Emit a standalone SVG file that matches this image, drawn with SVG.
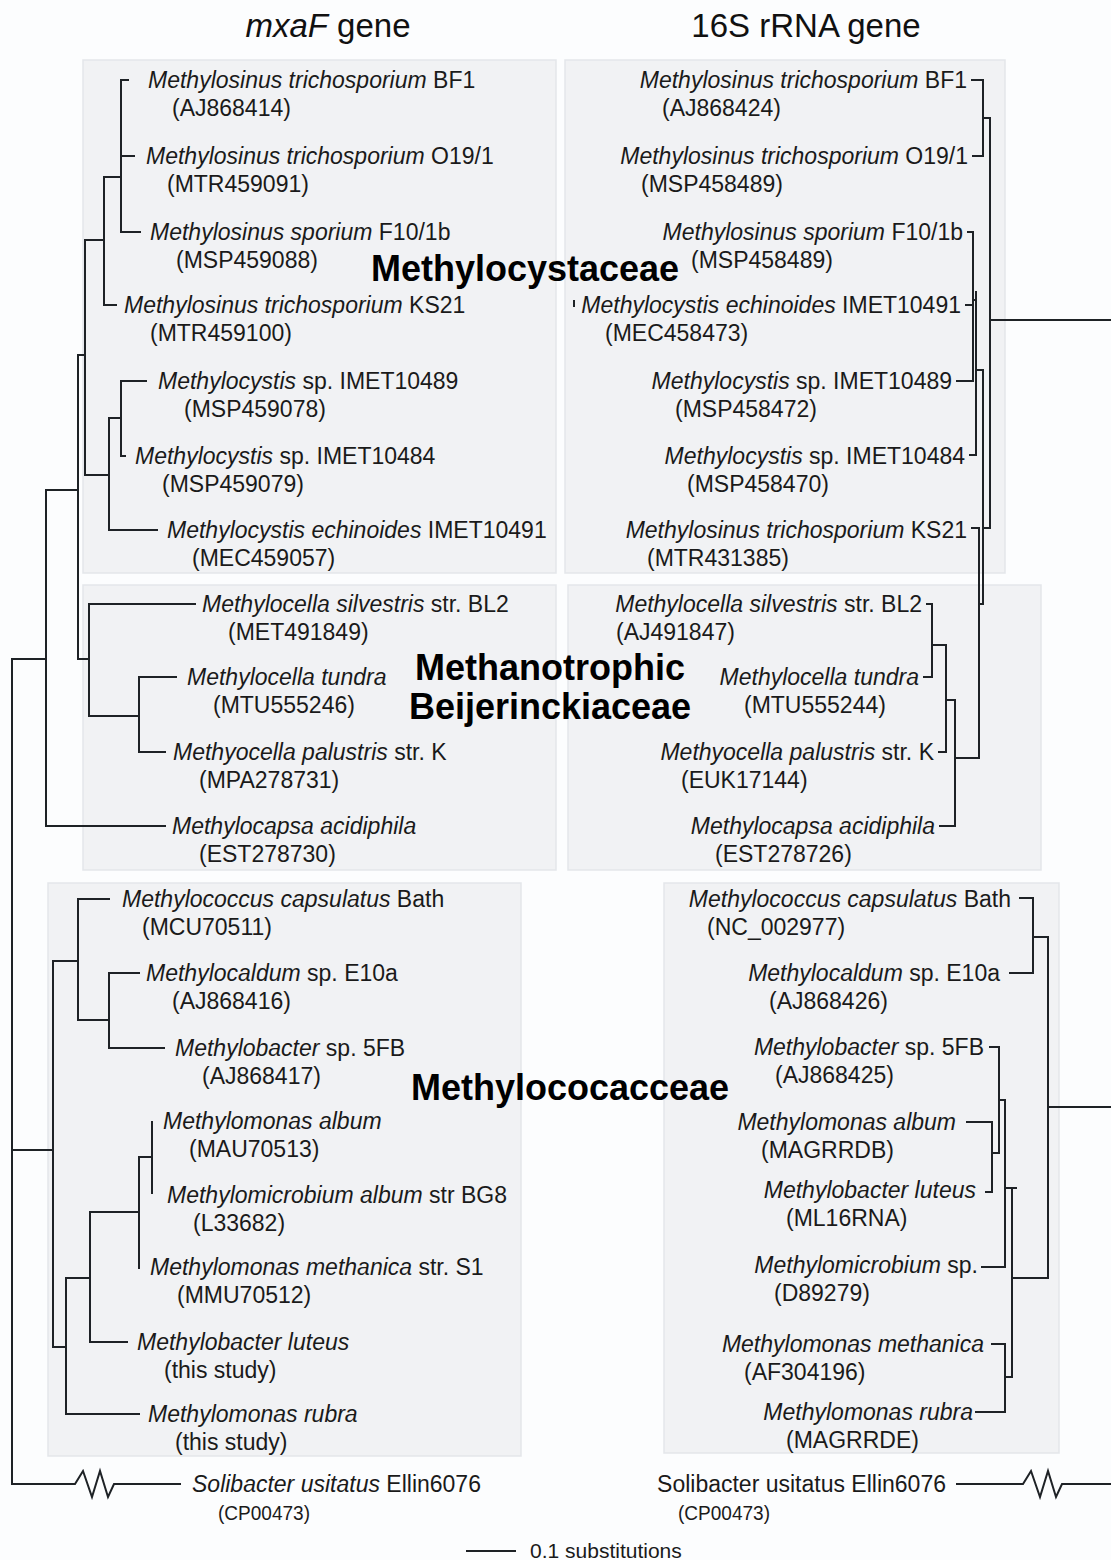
<svg xmlns="http://www.w3.org/2000/svg" width="1111" height="1560" viewBox="0 0 1111 1560">
<style>
.bg{fill:#fcfdfe}
.panel{fill:#f1f2f4;stroke:#e3e6ea;stroke-width:1.5}
.t{font-family:"Liberation Sans",Arial,sans-serif;font-size:23px;fill:#1a1a1a}
.e{text-anchor:end}
.title{font-family:"Liberation Sans",Arial,sans-serif;font-size:33px;fill:#111;text-anchor:middle}
.grp{font-family:"Liberation Sans",Arial,sans-serif;font-size:36px;font-weight:bold;fill:#000;text-anchor:middle}
.cp{font-family:"Liberation Sans",Arial,sans-serif;font-size:21px;fill:#1a1a1a}
.scale{font-family:"Liberation Sans",Arial,sans-serif;font-size:21px;fill:#1a1a1a}
.c path{fill:none;stroke:#1e2226;stroke-width:2;stroke-linecap:square}
</style>
<rect class="bg" x="0" y="0" width="1111" height="1560"/>
<g id="panels">
<rect class="panel" x="83" y="60" width="473" height="513"/>
<rect class="panel" x="83" y="585" width="473" height="285"/>
<rect class="panel" x="48" y="883" width="473" height="573"/>
<rect class="panel" x="565" y="60" width="440" height="513"/>
<rect class="panel" x="568" y="585" width="473" height="285"/>
<rect class="panel" x="664" y="883" width="395" height="570"/>
</g>
<g id="titles">
<text class="title" x="328" y="37"><tspan font-style="italic">mxaF</tspan> gene</text>
<text class="title" x="806" y="37">16S rRNA gene</text>
</g>
<g id="groups">
<text class="grp" x="525" y="281">Methylocystaceae</text>
<text class="grp" x="550" y="680">Methanotrophic</text>
<text class="grp" x="550" y="719">Beijerinckiaceae</text>
<text class="grp" x="570" y="1100">Methylococacceae</text>
</g>
<g id="left-leaves">
<g id="L1"><text class="t" x="148" y="88"><tspan font-style="italic">Methylosinus trichosporium</tspan> BF1</text><text class="t" x="172" y="116">(AJ868414)</text></g>
<g id="L2"><text class="t" x="146" y="164"><tspan font-style="italic">Methylosinus trichosporium</tspan> O19/1</text><text class="t" x="167" y="192">(MTR459091)</text></g>
<g id="L3"><text class="t" x="150" y="240"><tspan font-style="italic">Methylosinus sporium</tspan> F10/1b</text><text class="t" x="176" y="268">(MSP459088)</text></g>
<g id="L4"><text class="t" x="124" y="313"><tspan font-style="italic">Methylosinus trichosporium</tspan> KS21</text><text class="t" x="150" y="341">(MTR459100)</text></g>
<g id="L5"><text class="t" x="158" y="389"><tspan font-style="italic">Methylocystis</tspan> sp. IMET10489</text><text class="t" x="184" y="417">(MSP459078)</text></g>
<g id="L6"><text class="t" x="135" y="464"><tspan font-style="italic">Methylocystis</tspan> sp. IMET10484</text><text class="t" x="162" y="492">(MSP459079)</text></g>
<g id="L7"><text class="t" x="167" y="538"><tspan font-style="italic">Methylocystis echinoides</tspan> IMET10491</text><text class="t" x="192" y="566">(MEC459057)</text></g>
<g id="L8"><text class="t" x="202" y="612"><tspan font-style="italic">Methylocella silvestris</tspan> str. BL2</text><text class="t" x="228" y="640">(MET491849)</text></g>
<g id="L9"><text class="t" x="187" y="685"><tspan font-style="italic">Methylocella tundra</tspan></text><text class="t" x="213" y="713">(MTU555246)</text></g>
<g id="L10"><text class="t" x="173" y="760"><tspan font-style="italic">Methyocella palustris</tspan> str. K</text><text class="t" x="199" y="788">(MPA278731)</text></g>
<g id="L11"><text class="t" x="172" y="834"><tspan font-style="italic">Methylocapsa acidiphila</tspan></text><text class="t" x="199" y="862">(EST278730)</text></g>
<g id="L12"><text class="t" x="122" y="907"><tspan font-style="italic">Methylococcus capsulatus</tspan> Bath</text><text class="t" x="142" y="935">(MCU70511)</text></g>
<g id="L13"><text class="t" x="146" y="981"><tspan font-style="italic">Methylocaldum</tspan> sp. E10a</text><text class="t" x="172" y="1009">(AJ868416)</text></g>
<g id="L14"><text class="t" x="175" y="1056"><tspan font-style="italic">Methylobacter</tspan> sp. 5FB</text><text class="t" x="202" y="1084">(AJ868417)</text></g>
<g id="L15"><text class="t" x="163" y="1129"><tspan font-style="italic">Methylomonas album</tspan></text><text class="t" x="189" y="1157">(MAU70513)</text></g>
<g id="L16"><text class="t" x="167" y="1203"><tspan font-style="italic">Methylomicrobium album</tspan> str BG8</text><text class="t" x="193" y="1231">(L33682)</text></g>
<g id="L17"><text class="t" x="150" y="1275"><tspan font-style="italic">Methylomonas methanica</tspan> str. S1</text><text class="t" x="177" y="1303">(MMU70512)</text></g>
<g id="L18"><text class="t" x="137" y="1350"><tspan font-style="italic">Methylobacter luteus</tspan></text><text class="t" x="164" y="1378">(this study)</text></g>
<g id="L19"><text class="t" x="148" y="1422"><tspan font-style="italic">Methylomonas rubra</tspan></text><text class="t" x="175" y="1450">(this study)</text></g>
<g id="L20"><text class="t" x="192" y="1492"><tspan font-style="italic">Solibacter usitatus</tspan> Ellin6076</text><text class="cp" x="218" y="1520" textLength="92" lengthAdjust="spacingAndGlyphs">(CP00473)</text></g>
</g>
<g id="right-leaves">
<g id="R1"><text class="t e" x="967" y="88"><tspan font-style="italic">Methylosinus trichosporium</tspan> BF1</text><text class="t" x="662" y="116">(AJ868424)</text></g>
<g id="R2"><text class="t e" x="968" y="164"><tspan font-style="italic">Methylosinus trichosporium</tspan> O19/1</text><text class="t" x="641" y="192">(MSP458489)</text></g>
<g id="R3"><text class="t e" x="963" y="240"><tspan font-style="italic">Methylosinus sporium</tspan> F10/1b</text><text class="t" x="691" y="268">(MSP458489)</text></g>
<g id="R4"><text class="t e" x="961" y="313"><tspan font-style="italic">Methylocystis echinoides</tspan> IMET10491</text><text class="t" x="605" y="341">(MEC458473)</text></g>
<g id="R5"><text class="t e" x="952" y="389"><tspan font-style="italic">Methylocystis</tspan> sp. IMET10489</text><text class="t" x="675" y="417">(MSP458472)</text></g>
<g id="R6"><text class="t e" x="965" y="464"><tspan font-style="italic">Methylocystis</tspan> sp. IMET10484</text><text class="t" x="687" y="492">(MSP458470)</text></g>
<g id="R7"><text class="t e" x="967" y="538"><tspan font-style="italic">Methylosinus trichosporium</tspan> KS21</text><text class="t" x="647" y="566">(MTR431385)</text></g>
<g id="R8"><text class="t e" x="922" y="612"><tspan font-style="italic">Methylocella silvestris</tspan> str. BL2</text><text class="t" x="616" y="640">(AJ491847)</text></g>
<g id="R9"><text class="t e" x="919" y="685"><tspan font-style="italic">Methylocella tundra</tspan></text><text class="t" x="744" y="713">(MTU555244)</text></g>
<g id="R10"><text class="t e" x="934" y="760"><tspan font-style="italic">Methyocella palustris</tspan> str. K</text><text class="t" x="681" y="788">(EUK17144)</text></g>
<g id="R11"><text class="t e" x="935" y="834"><tspan font-style="italic">Methylocapsa acidiphila</tspan></text><text class="t" x="715" y="862">(EST278726)</text></g>
<g id="R12"><text class="t e" x="1011" y="907"><tspan font-style="italic">Methylococcus capsulatus</tspan> Bath</text><text class="t" x="707" y="935">(NC_002977)</text></g>
<g id="R13"><text class="t e" x="1000" y="981"><tspan font-style="italic">Methylocaldum</tspan> sp. E10a</text><text class="t" x="769" y="1009">(AJ868426)</text></g>
<g id="R14"><text class="t e" x="984" y="1055"><tspan font-style="italic">Methylobacter</tspan> sp. 5FB</text><text class="t" x="775" y="1083">(AJ868425)</text></g>
<g id="R15"><text class="t e" x="956" y="1130"><tspan font-style="italic">Methylomonas album</tspan></text><text class="t" x="761" y="1158">(MAGRRDB)</text></g>
<g id="R16"><text class="t e" x="976" y="1198"><tspan font-style="italic">Methylobacter luteus</tspan></text><text class="t" x="786" y="1226">(ML16RNA)</text></g>
<g id="R17"><text class="t e" x="978" y="1273"><tspan font-style="italic">Methylomicrobium</tspan> sp.</text><text class="t" x="774" y="1301">(D89279)</text></g>
<g id="R18"><text class="t e" x="984" y="1352"><tspan font-style="italic">Methylomonas methanica</tspan></text><text class="t" x="744" y="1380">(AF304196)</text></g>
<g id="R19"><text class="t e" x="973" y="1420"><tspan font-style="italic">Methylomonas rubra</tspan></text><text class="t" x="786" y="1448">(MAGRRDE)</text></g>
<g id="R20"><text class="t e" x="946" y="1492">Solibacter usitatus Ellin6076</text><text class="cp" x="678" y="1520" textLength="92" lengthAdjust="spacingAndGlyphs">(CP00473)</text></g>
</g>
<g id="connectors" class="c">
<path d="M121,80 H128 M121,156 H134 M121,232 H140 M121,80 V232 M104,177 H121"/>
<path d="M104,177 V305 M104,305 H116 M85,240 H104"/>
<path d="M85,240 V475 M78,355 H85"/>
<path d="M109,418 V530 M109,530 H157 M85,475 H109"/>
<path d="M121,381 V456 M121,381 H146 M121,456 H125 M109,418 H121"/>
<path d="M78,355 V659 M46,490 H78"/>
<path d="M89,604 V716 M89,604 H195 M78,659 H89"/>
<path d="M139,677 V752 M139,677 H176 M139,752 H165 M89,716 H139"/>
<path d="M46,490 V826 M46,826 H165 M12,659 H46"/>
<path d="M12,659 V1484 M12,1150 H53"/>
<path d="M53,961 V1347"/>
<path d="M78,899 V1020 M78,899 H109 M53,961 H78"/>
<path d="M109,973 V1048 M109,973 H139 M109,1048 H164 M78,1020 H109"/>
<path d="M66,1278 V1414 M66,1414 H139 M53,1347 H66"/>
<path d="M90,1212 V1342 M90,1342 H127 M66,1278 H90"/>
<path d="M139,1157 V1268 M90,1212 H139"/>
<path d="M152,1122 V1193 M139,1157 H152"/>
<path d="M12,1484 H75 L83,1471 L92,1497 L100,1471 L108,1497 L114,1484 H180" stroke-linejoin="miter"/>
<path d="M972,80 H983 M973,156 H983 M983,80 V156 M983,118 H990"/>
<path d="M990,118 V528 M990,320 H1111"/>
<path d="M968,232 H973 M966,305 H973 M957,381 H973 M973,232 V381"/>
<path d="M976,292 V455 M973,300 H976 M970,455 H976"/>
<path d="M976,370 H983 M983,370 V604 M983,528 H990"/>
<path d="M972,528 H979 M979,528 V758 M979,604 H983"/>
<path d="M927,604 H932 M924,677 H932 M932,604 V677 M932,645 H946"/>
<path d="M946,645 V752 M939,752 H946 M946,700 H955"/>
<path d="M955,700 V826 M940,826 H955 M955,758 H979"/>
<path d="M1020,898 H1033 M1010,973 H1033 M1033,898 V973 M1033,937 H1048"/>
<path d="M1048,937 V1278 M1048,1107 H1111"/>
<path d="M990,1047 H999 M999,1047 V1153 M999,1100 H1005"/>
<path d="M967,1122 H992 M986,1192 H992 M992,1122 V1192 M992,1153 H999"/>
<path d="M1005,1100 V1267 M982,1267 H1005 M1005,1188 H1016"/>
<path d="M1012,1188 V1377 M1012,1278 H1048"/>
<path d="M992,1344 H1005 M976,1412 H1005 M1005,1344 V1412 M1005,1377 H1012"/>
<path d="M957,1484 H1023 L1031,1471 L1040,1497 L1048,1471 L1056,1497 L1062,1484 H1111" stroke-linejoin="miter"/>
<path d="M574,301 V306" stroke-width="1.5"/>
</g>
<g id="scale-bar">
<path d="M466,1551 H516" stroke="#1e2226" stroke-width="2" fill="none"/>
<text class="scale" x="530" y="1558">0.1 substitutions</text>
</g>
</svg>
